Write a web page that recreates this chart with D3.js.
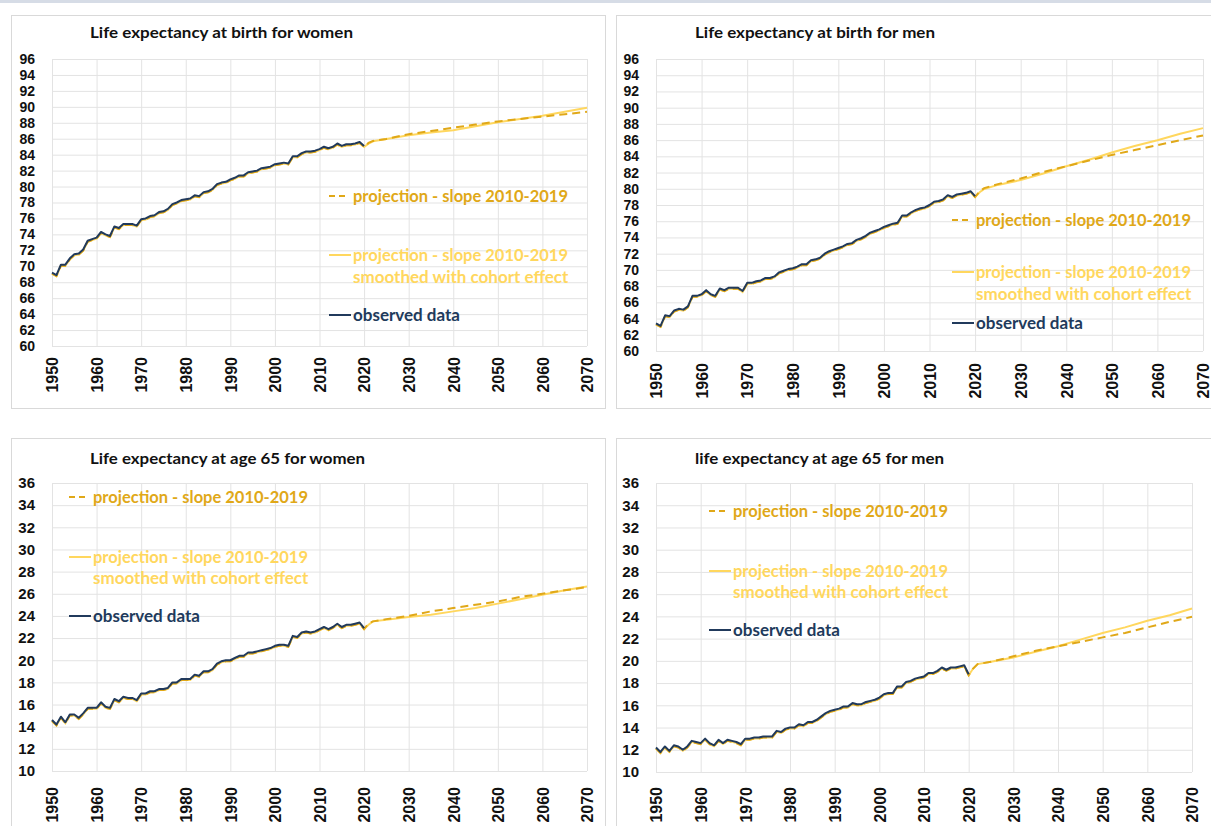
<!DOCTYPE html>
<html><head><meta charset="utf-8">
<script src="https://cdn.jsdelivr.net/npm/d3@7"></script>
<style>
body{margin:0;background:#fff}
svg{display:block}
text{font-family:Lato,'Open Sans',sans-serif;font-weight:bold}
</style>
</head><body>
<svg id="c" width="1211" height="826"></svg>
<script>
// ---------- DATA ----------
const obsYears = d3.range(1950, 2021);
const projYears = [2020, 2021, 2022, 2025, 2030, 2035, 2040, 2045, 2050, 2055, 2060, 2065, 2070];
const xTicks = [1950, 1960, 1970, 1980, 1990, 2000, 2010, 2020, 2030, 2040, 2050, 2060, 2070];
const yTicksBirth = [60, 62, 64, 66, 68, 70, 72, 74, 76, 78, 80, 82, 84, 86, 88, 90, 92, 94, 96];
const yTicks65 = [10, 12, 14, 16, 18, 20, 22, 24, 26, 28, 30, 32, 34, 36];

const titles = ["Life expectancy at birth for women", "Life expectancy at birth for men",
                "Life expectancy at age 65 for women", "life expectancy at age 65 for men"];
const legendLabels = ["projection - slope 2010-2019", "projection - slope 2010-2019",
                      "smoothed with cohort effect", "observed data"];

const womenBirthObs = [69.2,68.9,70.2,70.2,71.0,71.5,71.6,72.1,73.2,73.4,73.6,74.3,74.0,73.8,75.0,74.8,75.3,75.3,75.3,75.1,
  75.9,76.0,76.3,76.4,76.8,76.9,77.2,77.8,78.0,78.3,78.4,78.5,78.9,78.8,79.3,79.4,79.7,80.3,80.5,80.6,
  80.9,81.1,81.4,81.4,81.8,81.9,82.0,82.3,82.4,82.5,82.8,82.9,83.0,82.9,83.8,83.8,84.2,84.4,84.4,84.5,
  84.7,85.0,84.8,85.0,85.4,85.1,85.3,85.3,85.4,85.6,85.1];
const womenBirthSlope  = [85.1,85.6,85.85,86.1,86.7,87.1,87.5,87.9,88.3,88.6,88.9,89.2,89.5];
const womenBirthSmooth = [85.1,85.5,85.8,86.1,86.55,86.9,87.2,87.7,88.2,88.6,89.0,89.5,90.0];

const menBirthObs = [63.4,63.1,64.4,64.3,65.0,65.2,65.1,65.5,66.8,66.8,67.0,67.5,67.0,66.8,67.7,67.5,67.8,67.8,67.8,67.4,
  68.4,68.4,68.6,68.7,69.0,69.0,69.2,69.7,69.9,70.1,70.2,70.4,70.7,70.7,71.2,71.3,71.5,72.0,72.3,72.5,
  72.7,72.9,73.2,73.3,73.7,73.9,74.2,74.6,74.8,75.0,75.3,75.5,75.7,75.8,76.7,76.7,77.1,77.4,77.6,77.7,
  78.0,78.4,78.5,78.7,79.2,79.0,79.3,79.4,79.5,79.7,79.1];
const menBirthSlope  = [79.1,79.8,80.2,80.7,81.4,82.2,82.9,83.6,84.3,84.9,85.5,86.1,86.7];
const menBirthSmooth = [79.1,79.7,80.1,80.6,81.2,82.0,82.9,83.7,84.6,85.4,86.1,86.9,87.6];

const women65Obs = [14.6,14.2,14.9,14.4,15.1,15.1,14.8,15.2,15.7,15.7,15.7,16.2,15.8,15.7,16.5,16.3,16.7,16.6,16.6,16.4,
  17.0,17.0,17.2,17.2,17.4,17.4,17.5,18.0,18.0,18.3,18.3,18.3,18.7,18.6,19.0,19.0,19.2,19.7,19.9,20.0,
  20.0,20.2,20.4,20.4,20.7,20.7,20.8,20.9,21.0,21.1,21.3,21.4,21.4,21.3,22.2,22.1,22.5,22.6,22.5,22.6,
  22.8,23.0,22.8,23.0,23.3,23.0,23.2,23.2,23.3,23.4,22.9];
const women65Slope  = [22.9,23.4,23.6,23.8,24.1,24.5,24.8,25.1,25.4,25.8,26.1,26.4,26.7];
const women65Smooth = [22.9,23.3,23.6,23.75,24.0,24.2,24.5,24.8,25.2,25.6,26.0,26.4,26.75];

const men65Obs = [12.2,11.8,12.3,11.9,12.4,12.3,12.0,12.3,12.8,12.7,12.6,13.0,12.6,12.4,12.9,12.6,12.9,12.8,12.7,12.5,
  13.0,13.0,13.1,13.1,13.2,13.2,13.2,13.7,13.6,13.9,14.0,14.0,14.3,14.2,14.5,14.5,14.7,15.0,15.3,15.5,
  15.6,15.7,15.9,15.9,16.2,16.1,16.1,16.3,16.4,16.5,16.7,17.0,17.1,17.1,17.7,17.7,18.1,18.2,18.4,18.5,
  18.6,18.9,18.9,19.1,19.4,19.2,19.4,19.4,19.5,19.6,18.8];
const men65Slope  = [18.8,19.4,19.8,20.0,20.5,21.0,21.4,21.8,22.2,22.6,23.1,23.6,24.05];
const men65Smooth = [18.8,19.4,19.8,20.0,20.4,20.9,21.4,22.0,22.6,23.1,23.7,24.2,24.8];

// ---------- STYLE / LAYOUT ----------
const COL = {obs: "#213a5c", dash: "#E0A818", solid: "#FFD75E", grid: "#e3e3e3", frame: "#d9d9d9", tick: "#111"};
const TICKFONT = "'Liberation Sans', Arial, sans-serif";

const panels = [
  {title: titles[0], obs: womenBirthObs, slope: womenBirthSlope, smooth: womenBirthSmooth, yDom: [60, 96], yTicks: yTicksBirth,
   plot: {l: 52, r: 587, t: 59, b: 346}, frame: {x: 11, y: 15, w: 594, h: 393}, titlePos: {x: 90, y: 32, w: 263},
   leg: {lx: 329, tx: 353, y1: 196, y2: 255, y3: 277, y4: 315}, xGap: 11, yFont: 14},
  {title: titles[1], obs: menBirthObs, slope: menBirthSlope, smooth: menBirthSmooth, yDom: [60, 96], yTicks: yTicksBirth,
   plot: {l: 656, r: 1203, t: 59, b: 351}, frame: {x: 616, y: 15, w: 610, h: 393}, titlePos: {x: 695, y: 32, w: 240},
   leg: {lx: 952, tx: 976, y1: 220, y2: 272, y3: 294, y4: 323}, xGap: 12, yFont: 14},
  {title: titles[2], obs: women65Obs, slope: women65Slope, smooth: women65Smooth, yDom: [10, 36], yTicks: yTicks65,
   plot: {l: 52, r: 587, t: 483, b: 771}, frame: {x: 11, y: 438, w: 594, h: 410}, titlePos: {x: 90, y: 458, w: 275},
   leg: {lx: 69, tx: 93, y1: 497, y2: 557, y3: 578, y4: 616}, xGap: 16, yFont: 15},
  {title: titles[3], obs: men65Obs, slope: men65Slope, smooth: men65Smooth, yDom: [10, 36], yTicks: yTicks65,
   plot: {l: 656, r: 1192, t: 483, b: 772}, frame: {x: 616, y: 438, w: 610, h: 410}, titlePos: {x: 695, y: 458, w: 249},
   leg: {lx: 709, tx: 733, y1: 511, y2: 571, y3: 592, y4: 630}, xGap: 15, yFont: 15}
];

const svg = d3.select("#c");
svg.append("rect").attr("x", 0).attr("y", 0).attr("width", 1211).attr("height", 3).attr("fill", "#d6dce6");

function fit(t, w) {
  const L = t.node().getComputedTextLength();
  if (Math.abs(L - w) > 1.5) t.attr("textLength", w).attr("lengthAdjust", "spacingAndGlyphs");
  return t;
}

panels.forEach(p => {
  const g = svg.append("g");
  g.append("rect").attr("x", p.frame.x + 0.5).attr("y", p.frame.y + 0.5)
    .attr("width", p.frame.w).attr("height", p.frame.h)
    .attr("fill", "#fff").attr("stroke", COL.frame).attr("stroke-width", 1);

  const x = d3.scaleLinear().domain([1950, 2070]).range([p.plot.l, p.plot.r]);
  const y = d3.scaleLinear().domain(p.yDom).range([p.plot.b, p.plot.t]);
  const W = p.plot.r - p.plot.l, H = p.plot.b - p.plot.t;

  // gridlines
  const gx = g.append("g").attr("transform", `translate(0,${p.plot.b})`)
    .call(d3.axisBottom(x).tickValues(xTicks).tickSize(-H).tickFormat(""));
  gx.select(".domain").remove();
  gx.selectAll("line").attr("stroke", COL.grid);
  const gy = g.append("g").attr("transform", `translate(${p.plot.l},0)`)
    .call(d3.axisLeft(y).tickValues(p.yTicks).tickSize(-W).tickFormat(""));
  gy.select(".domain").remove();
  gy.selectAll("line").attr("stroke", COL.grid);

  // axes labels
  const ay = g.append("g").attr("transform", `translate(${p.plot.l},0)`)
    .call(d3.axisLeft(y).tickValues(p.yTicks).tickSize(0).tickPadding(17).tickFormat(d3.format("d")));
  ay.select(".domain").remove();
  ay.selectAll("text").attr("font-size", p.yFont).attr("fill", COL.tick)
    .style("font-family", TICKFONT).style("font-weight", "bold");

  const ax = g.append("g").attr("transform", `translate(0,${p.plot.b})`)
    .call(d3.axisBottom(x).tickValues(xTicks).tickSize(0).tickFormat(d3.format("d")));
  ax.select(".domain").remove();
  ax.selectAll("text").attr("font-size", 16).attr("fill", COL.tick)
    .style("font-family", TICKFONT).style("font-weight", "bold")
    .attr("transform", "rotate(-90)").attr("text-anchor", "end")
    .attr("x", -p.xGap).attr("y", 0).attr("dy", "0.36em");

  // series
  const hist = obsYears.map((yr, i) => ({x: yr, v: p.obs[i]}));
  const smoothFull = hist.slice(0, -1).concat(projYears.map((yr, i) => ({x: yr, v: p.smooth[i]})));
  const slopeFull = hist.slice(0, -1).concat(projYears.map((yr, i) => ({x: yr, v: p.slope[i]})));
  const line = d3.line().x(d => x(d.x)).y(d => y(d.v));

  g.append("path").datum(smoothFull).attr("d", line).attr("fill", "none")
    .attr("stroke", COL.solid).attr("stroke-width", 2).attr("transform", "translate(0,1)");
  g.append("path").datum(slopeFull).attr("d", line).attr("fill", "none")
    .attr("stroke", COL.dash).attr("stroke-width", 2).attr("stroke-dasharray", "8,5").attr("transform", "translate(0,1)");
  g.append("path").datum(hist).attr("d", line).attr("fill", "none")
    .attr("stroke", COL.obs).attr("stroke-width", 2).attr("stroke-linejoin", "round");

  // title
  const t = g.append("text").attr("x", p.titlePos.x).attr("y", p.titlePos.y).attr("dy", "0.35em")
    .attr("font-size", 16).attr("fill", "#111").text(p.title);
  fit(t, p.titlePos.w);

  // legend
  const L = p.leg;
  g.append("line").attr("x1", L.lx).attr("x2", L.lx + 20).attr("y1", L.y1).attr("y2", L.y1)
    .attr("stroke", COL.dash).attr("stroke-width", 2).attr("stroke-dasharray", "6,4");
  fit(g.append("text").attr("x", L.tx).attr("y", L.y1).attr("dy", "0.35em").attr("font-size", 17)
    .attr("fill", COL.dash).text(legendLabels[0]), 215);

  g.append("line").attr("x1", L.lx).attr("x2", L.lx + 22).attr("y1", L.y2).attr("y2", L.y2)
    .attr("stroke", COL.solid).attr("stroke-width", 2);
  fit(g.append("text").attr("x", L.tx).attr("y", L.y2).attr("dy", "0.35em").attr("font-size", 17)
    .attr("fill", COL.solid).text(legendLabels[1]), 215);
  fit(g.append("text").attr("x", L.tx).attr("y", L.y3).attr("dy", "0.35em").attr("font-size", 17)
    .attr("fill", COL.solid).text(legendLabels[2]), 216);

  g.append("line").attr("x1", L.lx).attr("x2", L.lx + 22).attr("y1", L.y4).attr("y2", L.y4)
    .attr("stroke", COL.obs).attr("stroke-width", 2);
  fit(g.append("text").attr("x", L.tx).attr("y", L.y4).attr("dy", "0.35em").attr("font-size", 17)
    .attr("fill", COL.obs).text(legendLabels[3]), 107);
});
</script>
</body></html>
